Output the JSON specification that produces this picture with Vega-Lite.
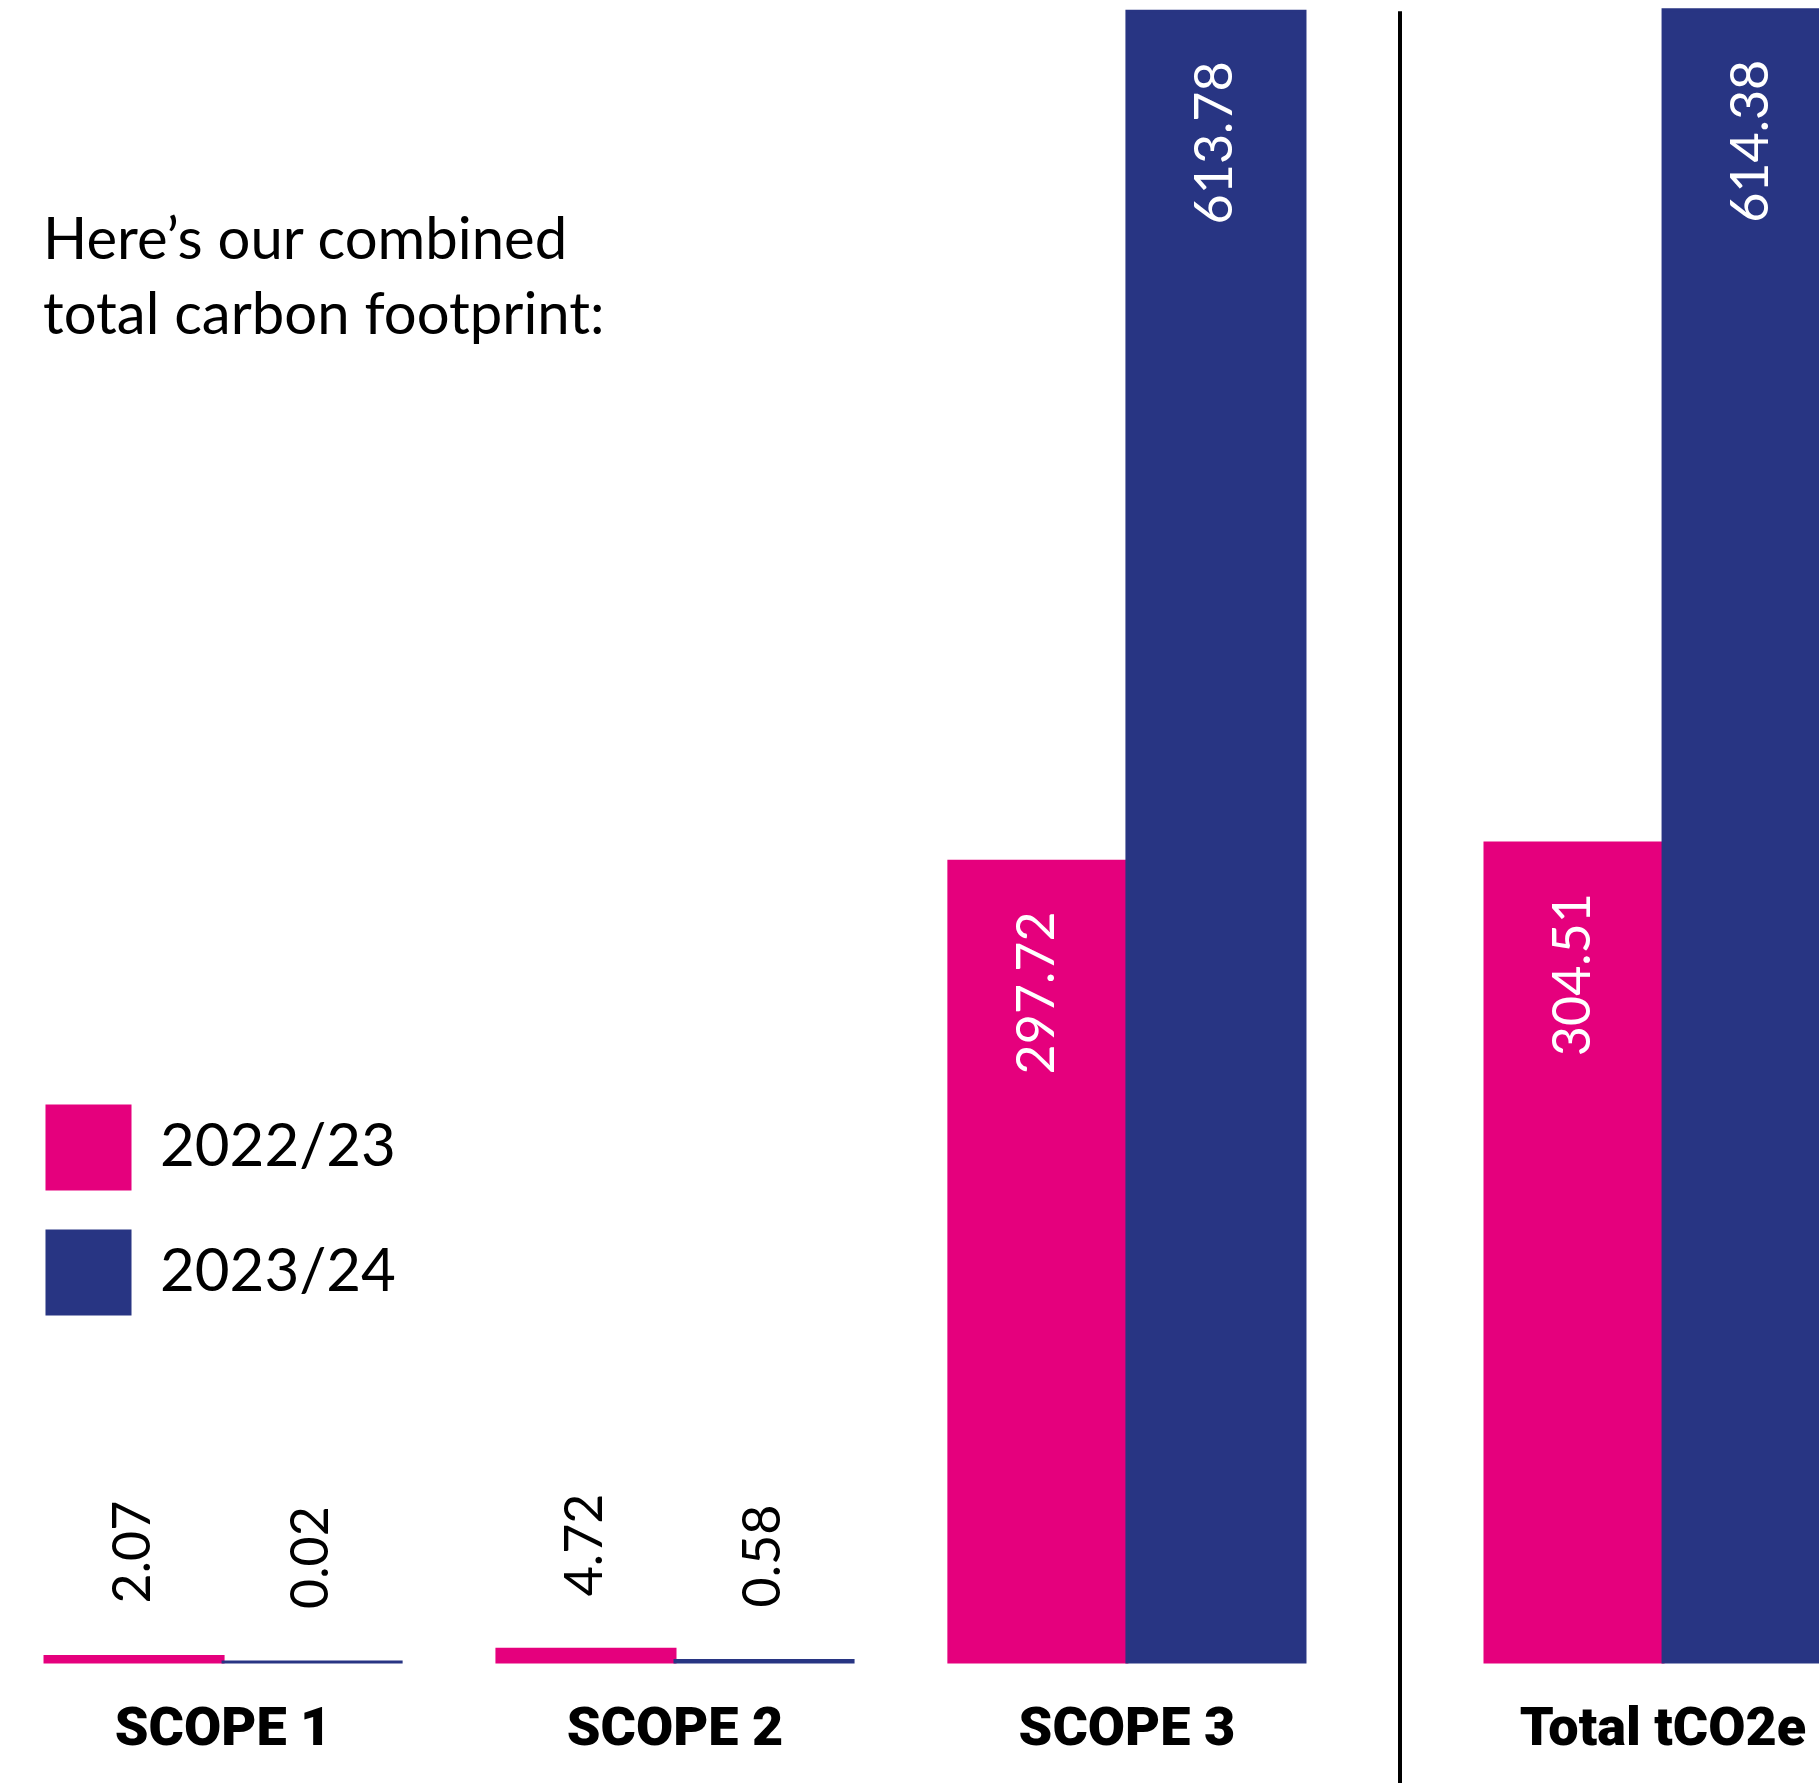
{
  "$schema": "https://vega.github.io/schema/vega-lite/v6.json",
  "padding": 0,
  "background": "white",
  "spacing": 40,
  "config": {
    "view": {"stroke": null},
    "font": "Lato"
  },
  "data": {
    "values": [
      {"scope": "SCOPE 1", "year": "2022/23", "value": 2.07},
      {"scope": "SCOPE 1", "year": "2023/24", "value": 0.02},
      {"scope": "SCOPE 2", "year": "2022/23", "value": 4.72},
      {"scope": "SCOPE 2", "year": "2023/24", "value": 0.58},
      {"scope": "SCOPE 3", "year": "2022/23", "value": 297.72},
      {"scope": "SCOPE 3", "year": "2023/24", "value": 613.78},
      {"scope": "Total tCO2e", "year": "2022/23", "value": 304.51},
      {"scope": "Total tCO2e", "year": "2023/24", "value": 614.38}
    ]
  },
  "resolve": {
    "scale": {"color": "shared", "stroke": "shared"},
    "legend": {"color": "shared"}
  },
  "hconcat": [
    {
      "width": 1350,
      "height": 1662,
      "title": {
        "text": ["Here’s our combined", "total carbon footprint:"],
        "anchor": "start",
        "frame": "group",
        "orient": "top",
        "offset": -392,
        "dx": 43,
        "baseline": "alphabetic",
        "font": "Lato",
        "fontSize": 58,
        "fontWeight": "normal",
        "lineHeight": 75,
        "color": "black"
      },
      "transform": [{"filter": "datum.scope !== 'Total tCO2e'"}],
      "encoding": {
        "x": {
          "field": "scope",
          "type": "nominal",
          "sort": null,
          "scale": {"paddingInner": 0.212, "paddingOuter": 0.0996},
          "axis": {
            "title": null,
            "domain": false,
            "ticks": false,
            "tickSize": 0,
            "labelAngle": 0,
            "labelLimit": 0,
            "labelFont": "Roboto",
            "labelFontWeight": 900,
            "labelFontSize": 54,
            "labelColor": "black",
            "labelPadding": 39
          }
        },
        "xOffset": {
          "field": "year",
          "type": "nominal",
          "scale": {"paddingInner": 0, "paddingOuter": 0}
        },
        "y": {
          "field": "value",
          "type": "quantitative",
          "scale": {"domain": [0, 618], "nice": false},
          "axis": null
        }
      },
      "layer": [
        {
          "mark": {"type": "bar", "strokeWidth": 3},
          "encoding": {
            "color": {
              "field": "year",
              "type": "nominal",
              "scale": {"domain": ["2022/23", "2023/24"], "range": ["#E5007D", "#283583"]},
              "legend": {
                "title": null,
                "orient": "none",
                "legendX": 45,
                "legendY": 1104,
                "padding": 0,
                "symbolType": "square",
                "symbolSize": 7400,
                "symbolStrokeWidth": 0,
                "symbolOpacity": 1,
                "rowPadding": 38,
                "labelOffset": 28,
                "labelLimit": 0,
                "labelFont": "Lato",
                "labelFontSize": 60,
                "labelColor": "black"
              }
            },
            "stroke": {
              "field": "year",
              "type": "nominal",
              "scale": {"domain": ["2022/23", "2023/24"], "range": ["#E5007D", "#283583"]},
              "legend": null
            }
          }
        },
        {
          "transform": [{"filter": "datum.value < 100"}],
          "mark": {"type": "text", "angle": 270, "align": "left", "baseline": "middle", "dx": 53, "font": "Lato", "fontSize": 52, "color": "black"},
          "encoding": {"text": {"field": "value", "type": "quantitative", "format": ".2f"}}
        },
        {
          "transform": [{"filter": "datum.value >= 100"}],
          "mark": {"type": "text", "angle": 270, "align": "right", "baseline": "middle", "dx": -50, "font": "Lato", "fontSize": 52, "color": "white"},
          "encoding": {"text": {"field": "value", "type": "quantitative", "format": ".2f"}}
        }
      ]
    },
    {
      "width": 20,
      "height": 1662,
      "data": {"values": [{}]},
      "mark": {"type": "rule", "strokeWidth": 4, "color": "black"},
      "encoding": {
        "y": {"datum": 613.78, "type": "quantitative", "scale": {"domain": [0, 618], "nice": false}, "axis": null},
        "y2": {"datum": -45}
      }
    },
    {
      "width": 426,
      "height": 1662,
      "transform": [{"filter": "datum.scope === 'Total tCO2e'"}],
      "encoding": {
        "x": {
          "field": "scope",
          "type": "nominal",
          "scale": {"paddingInner": 0, "paddingOuter": 0.0983},
          "axis": {
            "title": null,
            "domain": false,
            "ticks": false,
            "tickSize": 0,
            "labelAngle": 0,
            "labelLimit": 0,
            "labelFont": "Roboto",
            "labelFontWeight": 900,
            "labelFontSize": 54,
            "labelColor": "black",
            "labelPadding": 39
          }
        },
        "xOffset": {
          "field": "year",
          "type": "nominal",
          "scale": {"paddingInner": 0, "paddingOuter": 0}
        },
        "y": {
          "field": "value",
          "type": "quantitative",
          "scale": {"domain": [0, 618], "nice": false},
          "axis": null
        }
      },
      "layer": [
        {
          "mark": {"type": "bar", "strokeWidth": 3},
          "encoding": {
            "color": {
              "field": "year",
              "type": "nominal",
              "scale": {"domain": ["2022/23", "2023/24"], "range": ["#E5007D", "#283583"]},
              "legend": {
                "title": null,
                "orient": "none",
                "legendX": 45,
                "legendY": 1104,
                "padding": 0,
                "symbolType": "square",
                "symbolSize": 7400,
                "symbolStrokeWidth": 0,
                "symbolOpacity": 1,
                "rowPadding": 38,
                "labelOffset": 28,
                "labelLimit": 0,
                "labelFont": "Lato",
                "labelFontSize": 60,
                "labelColor": "black"
              }
            },
            "stroke": {
              "field": "year",
              "type": "nominal",
              "scale": {"domain": ["2022/23", "2023/24"], "range": ["#E5007D", "#283583"]},
              "legend": null
            }
          }
        },
        {
          "transform": [{"filter": "datum.value >= 100"}],
          "mark": {"type": "text", "angle": 270, "align": "right", "baseline": "middle", "dx": -50, "font": "Lato", "fontSize": 52, "color": "white"},
          "encoding": {"text": {"field": "value", "type": "quantitative", "format": ".2f"}}
        }
      ]
    }
  ]
}
